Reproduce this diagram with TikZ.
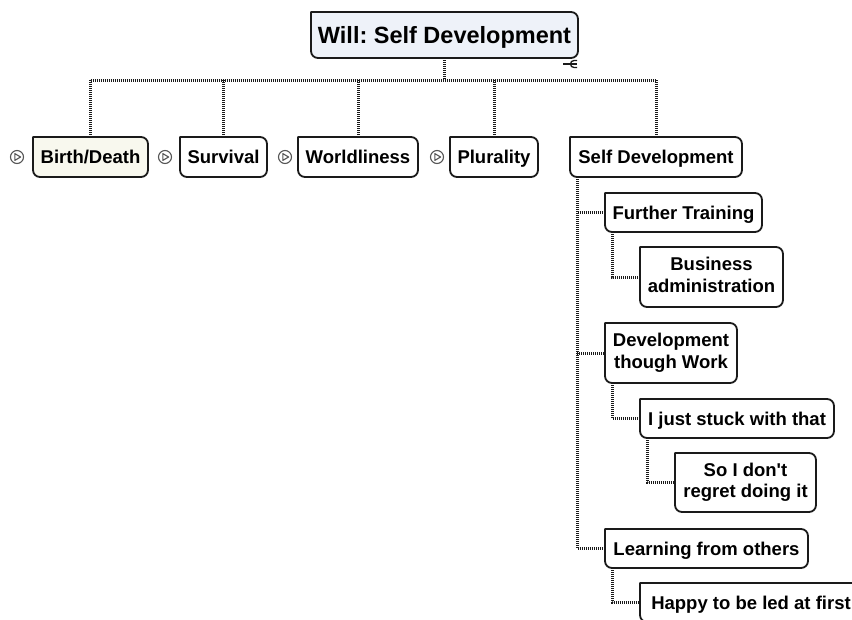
\documentclass[tikz,border=0pt]{standalone}
\usepackage{fontspec}
\setmainfont{Liberation Sans}
\usetikzlibrary{backgrounds}
\frenchspacing

\definecolor{inkline}{HTML}{1A1A1A}
\definecolor{rootfill}{HTML}{EEF2F9}
\definecolor{markfill}{HTML}{F8F8EE}
\definecolor{markgray}{HTML}{555555}

\tikzset{
  topic/.style={inner sep=0pt, outer sep=0pt, align=center,
    font=\fontsize{18.5}{21.5}\selectfont\bfseries, text=black,
    execute at begin node=\rule{0pt}{17pt},
    execute at end node=\rule[-4pt]{0pt}{4pt}},
  roottopic/.style={inner sep=0pt, outer sep=0pt, align=center,
    font=\fontsize{23.5}{26}\selectfont\bfseries, text=black,
    execute at begin node=\rule{0pt}{21pt},
    execute at end node=\rule[-3pt]{0pt}{3pt}},
  frame/.style={draw=inkline, line width=1.8pt, line join=round},
  link/.style={draw=inkline, line width=3pt, dash pattern=on 1pt off 1pt},
  playmark/.style={circle, draw=markgray, line width=1.1pt, minimum size=13pt,
    inner sep=0pt, path picture={
      \draw[markgray, line width=1.1pt, line join=round]
        ([xshift=-2.2pt,yshift=3.4pt]path picture bounding box.center) --
        ([xshift=3.6pt]path picture bounding box.center) --
        ([xshift=-2.2pt,yshift=-3.4pt]path picture bounding box.center) -- cycle;}},
}

% frame with a square top-left corner and rounded other corners
\newcommand\topicframe[2]{%
  \filldraw[frame, fill=#2] (#1.north) [rounded corners=7pt] -| (#1.south east)
    -| (#1.west) [sharp corners] |- (#1.north);}

\begin{document}
\begin{tikzpicture}[x=1pt, y=-1pt]
  \clip (0,0) rectangle (852,619);

  % central topic
  \node[roottopic, minimum width=267, minimum height=46] (root) at (444.5,35) {Will: Self Development};

  % main branches
  \node[topic, minimum width=115, minimum height=40] (birth) at (90.5,157) {Birth/Death};
  \node[topic, minimum width=87,  minimum height=40] (surv)  at (223.5,157) {Survival};
  \node[topic, minimum width=120, minimum height=40] (world) at (358,157) {Worldliness};
  \node[topic, minimum width=88,  minimum height=40] (plur)  at (494,157) {Plurality};
  \node[topic, minimum width=172, minimum height=40] (sd)    at (656,157) {Self Development};

  % collapsed-branch markers
  \node[playmark] (birthmark) at (17,157) {};
  \node[playmark] (survmark)  at (165,157) {};
  \node[playmark] (worldmark) at (285,157) {};
  \node[playmark] (plurmark)  at (437,157) {};

  % subtopics of Self Development
  \node[topic, minimum width=157, minimum height=39] (ft)   at (683.5,212.5) {Further Training};
  \node[topic, minimum width=143, minimum height=60] (ba)   at (711.5,277) {Business\\administration};
  \node[topic, minimum width=132, minimum height=60] (dtw)  at (671,353) {Development\\though Work};
  \node[topic, minimum width=194, minimum height=39] (ijs)  at (737,418.5) {I just stuck with that};
  \node[topic, minimum width=141, minimum height=59] (sidr) at (745.5,482.5) {So I don\textquotesingle t\\regret doing it};
  \node[topic, minimum width=203, minimum height=39] (lfo)  at (706.5,548.5) {Learning from others};
  \node[topic, minimum width=222, minimum height=39] (happy) at (751,602.5) {Happy to be led at first};

  \begin{scope}[on background layer]
    \fill[white] (0,0) rectangle (852,619);
    \topicframe{root}{rootfill}
    \topicframe{birth}{markfill}
    \foreach \n in {surv,world,plur,sd,ft,ba,dtw,ijs,sidr,lfo,happy}
      {\topicframe{\n}{white}}
  \end{scope}

  % collapse handle of the central topic
  \coordinate (handle) at ([xshift=-8pt,yshift=-6pt]root.south east);
  \begin{scope}[draw=inkline, line width=1.3pt]
    \draw ([xshift=-7pt]handle) -- ([xshift=7pt]handle);
    \draw ([xshift=7pt,yshift=3.5pt]handle) -- ([xshift=4pt,yshift=3.5pt]handle)
      arc[start angle=90, end angle=270, radius=3.5pt] -- ++(3,0);
  \end{scope}

  % connectors from the central topic
  \coordinate (bus) at (0,80);
  \draw[link] (root.south) -- (root.south |- bus);
  \draw[link] (birth.north |- bus) -- (sd.north |- bus);
  \foreach \n in {birth,surv,world,plur,sd}
    {\draw[link] (\n.north |- bus) -- (\n.north);}

  % connectors below Self Development
  \draw[link] ([xshift=7pt]sd.south west) |- (ft.west);
  \draw[link] ([xshift=7pt]sd.south west) |- (dtw.west);
  \draw[link] ([xshift=7pt]sd.south west) |- (lfo.west);
  \draw[link] ([xshift=7pt]ft.south west) |- (ba.west);
  \draw[link] ([xshift=7pt]dtw.south west) |- (ijs.west);
  \draw[link] ([xshift=7pt]ijs.south west) |- (sidr.west);
  \draw[link] ([xshift=7pt]lfo.south west) |- (happy.west);
\end{tikzpicture}
\end{document}
